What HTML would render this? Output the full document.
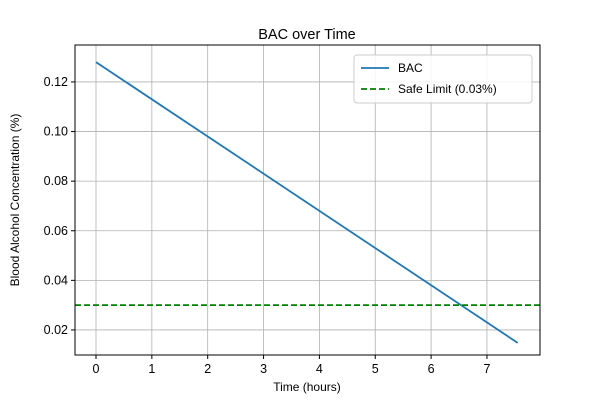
<!DOCTYPE html>
<html><head><meta charset="utf-8"><style>
body{margin:0;background:#fff;}
svg text{font-family:"Liberation Sans",sans-serif;fill:#000;}
</style></head><body>
<svg id="chart" width="600" height="400">
<rect width="600" height="400" fill="#fff"/>
<text x="307" y="39" font-size="14.5" text-anchor="middle">BAC over Time</text>
<g id="grid"></g><g id="ticks"></g><g id="series"></g>
<rect x="75" y="45" width="465" height="310" fill="none" stroke="#000" stroke-width="1"/>
<text x="307" y="391" font-size="12" text-anchor="middle">Time (hours)</text>
<text transform="translate(19,200) rotate(-90)" font-size="12" text-anchor="middle">Blood Alcohol Concentration (%)</text>
<g>
<rect x="354" y="55" width="178" height="48" rx="3" fill="#fff" fill-opacity="0.85" stroke="#ccc"/>
<line x1="361" y1="68" x2="389" y2="68" stroke="#1f77b4" stroke-width="1.8"/>
<text x="398" y="72" font-size="12">BAC</text>
<line x1="361" y1="89" x2="389" y2="89" stroke="#008000" stroke-width="1.8" stroke-dasharray="6,3"/>
<text x="398" y="93" font-size="12">Safe Limit (0.03%)</text>
</g>
</svg>
<script>
const times=[0,7.55];
const bacValues=[0.128,0.0148];
const safeLimit=0.03;
const xTicks=[0,1,2,3,4,5,6,7];
const yTicks=[0.02,0.04,0.06,0.08,0.10,0.12];
const NS="http://www.w3.org/2000/svg";
const L=75,R=540,T=45,B=355,xmin=-0.376,xmax=7.95,ymin=0.0099,ymax=0.1349;
const xs=v=>L+(v-xmin)/(xmax-xmin)*(R-L);
const ys=v=>B-(v-ymin)/(ymax-ymin)*(B-T);
function mk(tag,a,p){const e=document.createElementNS(NS,tag);for(const k in a)e.setAttribute(k,a[k]);document.getElementById(p).appendChild(e);return e;}
xTicks.forEach(t=>{const x=xs(t);
const g=mk('line',{x1:x,x2:x,y1:T,y2:B,stroke:'#b0b0b0','stroke-width':0.8},'grid');


mk('line',{x1:x,x2:x,y1:B,y2:B+4,stroke:'#000'},'ticks');
const tx=mk('text',{x:x,y:B+18,'font-size':12.5,'text-anchor':'middle'},'ticks');tx.textContent=t;

});
yTicks.forEach(t=>{const y=ys(t);
const g=mk('line',{x1:L,x2:R,y1:y,y2:y,stroke:'#b0b0b0','stroke-width':0.8},'grid');


mk('line',{x1:L-4,x2:L,y1:y,y2:y,stroke:'#000'},'ticks');
const tx=mk('text',{x:L-7,y:y+4,'font-size':12.5,'text-anchor':'end'},'ticks');tx.textContent=t.toFixed(2);

});
const pts=times.map((t,i)=>xs(t)+','+ys(bacValues[i])).join(' ');
const pl=mk('polyline',{points:pts,fill:'none',stroke:'#1f77b4','stroke-width':1.8},'series');


const sl=mk('line',{x1:L,x2:R,y1:ys(safeLimit),y2:ys(safeLimit),stroke:'#008000','stroke-width':1.8,'stroke-dasharray':'6,3'},'series');


</script>
</body></html>
